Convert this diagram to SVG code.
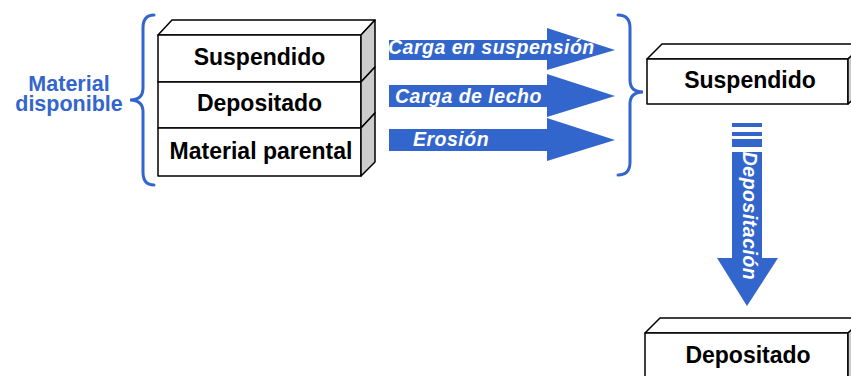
<svg xmlns="http://www.w3.org/2000/svg" width="851" height="376" viewBox="0 0 851 376">
<style>
.front{fill:#fff;stroke:#000;stroke-width:1.5;stroke-linejoin:round}
.side{fill:#cccccc;stroke:#000;stroke-width:1.5;stroke-linejoin:round}
.lbl{font-family:"Liberation Sans",Arial,sans-serif;font-weight:bold;font-size:23px;fill:#000;text-anchor:middle}
.arr{fill:#3366cc}
.atxt{font-family:"Liberation Sans",Arial,sans-serif;font-weight:bold;font-style:italic;font-size:19.5px;letter-spacing:0.5px;fill:#fff}
.brace{fill:none;stroke:#3366cc;stroke-width:3;stroke-linecap:round}
.blue{font-family:"Liberation Sans",Arial,sans-serif;font-weight:bold;font-size:21.5px;fill:#3366cc;text-anchor:middle}
</style>
<rect width="851" height="376" fill="#fff"/>
<g id="material-disponible">
<text class="blue" x="69" y="91">Material</text>
<text class="blue" x="69" y="111">disponible</text>
<path class="brace" d="M154,15 Q143,15 143,28 L143,88 Q143,100 130,100 Q143,100 143,112 L143,172 Q143,185 154,185"/>
</g>
<g id="stack-suspendido">
<polygon class="front" points="158,35 172,20 375,20 361,35"/>
<rect class="front" x="158" y="35" width="203" height="47"/>
<polygon class="side" points="361,35 375,20 375,67 361,82"/>
<text class="lbl" x="259.5" y="65">Suspendido</text>
</g>
<g id="stack-depositado">
<rect class="front" x="158" y="82" width="203" height="46"/>
<polygon class="side" points="361,82 375,67 375,113 361,128"/>
<text class="lbl" x="259.5" y="111">Depositado</text>
</g>
<g id="stack-parental">
<rect class="front" x="158" y="128" width="203" height="48"/>
<polygon class="side" points="361,128 375,113 375,162 361,176"/>
<text class="lbl" x="261" y="159">Material parental</text>
</g>
<g id="connectors">
<polygon class="arr" points="389,40 547,40 547,28 615,50 547,70 547,60 389,60"/>
<polygon class="arr" points="389,85 547,85 547,74 615,96 547,117 547,107 389,107"/>
<polygon class="arr" points="389,129 547,129 547,118 615,140 547,161 547,151 389,151"/>
<text class="atxt" x="388" y="54">Carga en suspensión</text>
<text class="atxt" x="395" y="103">Carga de lecho</text>
<text class="atxt" x="413" y="146">Erosión</text>
<path class="brace" d="M618,15 Q630,15 630,28 L630,80 Q630,92 643,92 Q630,92 630,104 L630,162 Q630,175 618,175"/>
<rect class="arr" x="732" y="123" width="30" height="4"/>
<rect class="arr" x="732" y="132" width="30" height="4"/>
<rect class="arr" x="732" y="139" width="30" height="8"/>
<polygon class="arr" points="732,152 762,152 762,258 778,258 747,306 717,258 732,258"/>
<text class="atxt" transform="translate(743,216) rotate(90)" text-anchor="middle">Depositación</text>
</g>
<g id="box-suspendido">
<polygon class="front" points="647,59 662,44 864,44 848,59"/>
<rect class="front" x="647" y="59" width="201" height="45"/>
<polygon class="side" points="848,59 864,44 864,89 848,104"/>
<text class="lbl" x="750" y="88">Suspendido</text>
</g>
<g id="box-depositado">
<polygon class="front" points="645,333 660,318 864,318 848,333"/>
<rect class="front" x="645" y="333" width="203" height="60"/>
<polygon class="side" points="848,333 864,318 864,380 848,393"/>
<text class="lbl" x="748" y="363">Depositado</text>
</g>
</svg>
